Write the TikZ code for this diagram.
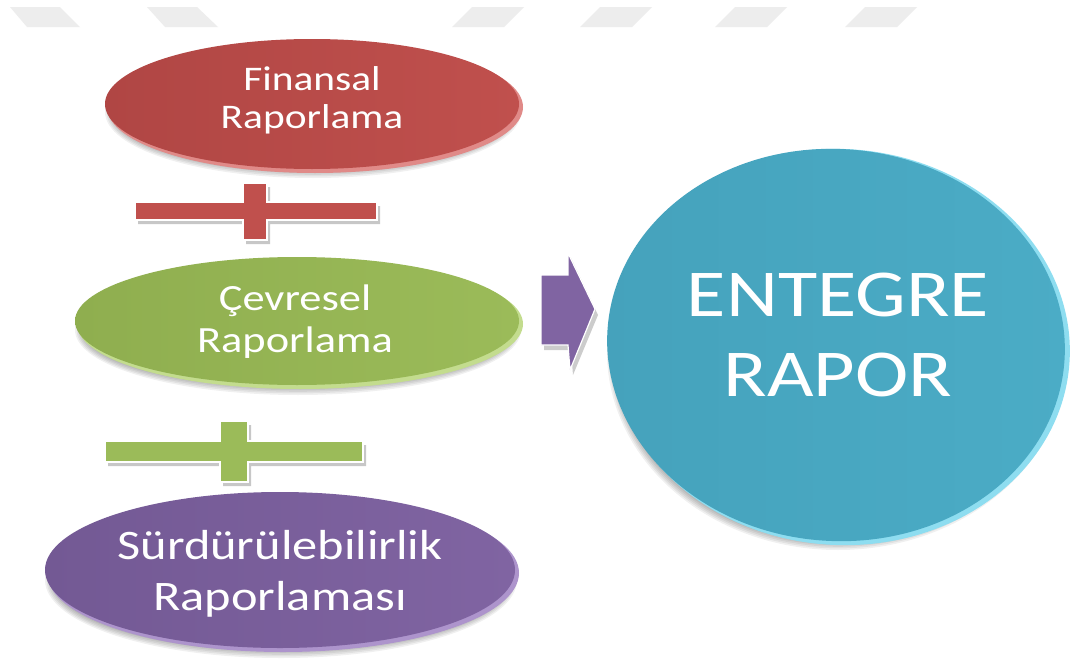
\documentclass[tikz,border=0pt]{standalone}
\usepackage{fontspec}
\setmainfont[FakeStretch=1.2]{Carlito}
\usetikzlibrary{shapes.geometric}
\definecolor{wm}{HTML}{EDEDED}
\definecolor{cred}{HTML}{C0504D}
\definecolor{credD}{HTML}{B04644}
\definecolor{credL}{HTML}{E08A88}
\definecolor{cgreen}{HTML}{9BBB59}
\definecolor{cgreenD}{HTML}{8FAE4F}
\definecolor{cgreenL}{HTML}{C3DC8E}
\definecolor{cpurple}{HTML}{8064A2}
\definecolor{cpurpleD}{HTML}{735994}
\definecolor{cpurpleL}{HTML}{AD94CC}
\definecolor{cteal}{HTML}{4BACC6}
\definecolor{ctealD}{HTML}{45A2BC}
\definecolor{ctealL}{HTML}{8EDDF0}
\newcommand\mysoftshadow[4]{%
  \foreach \k in {0,...,5}{%
    \fill[black,opacity=0.06] (#1,#2) ellipse [x radius={#3-\k*1.6}, y radius={#4-\k*1.6}];}}
\begin{document}
\begin{tikzpicture}[x=1pt,y=-1pt,
  oval/.style={ellipse, inner sep=0pt},
  label/.style={text=white, align=center, inner sep=0pt},
  wmshape/.style={fill=wm},
  plusshape/.style={draw=white, line width=1.2pt},
  plusshadow/.style={fill=black, opacity=0.22}]
\useasboundingbox (0,0) rectangle (1072,672);
\fill[white] (0,0) rectangle (1072,672);
% watermark band
\fill[wmshape] (10,7) -- (60,7) -- (80,27) -- (27,27) -- cycle;
\fill[wmshape] (147,7) -- (197,7) -- (218,27) -- (165,27) -- cycle;
\fill[wmshape] (472,7) -- (524,7) -- (504,27) -- (452,27) -- cycle;
\fill[wmshape] (600,7) -- (652,7) -- (632,27) -- (580,27) -- cycle;
\fill[wmshape] (735,7) -- (787,7) -- (767,27) -- (715,27) -- cycle;
\fill[wmshape] (865,7) -- (917,7) -- (897,27) -- (845,27) -- cycle;

% red ellipse
\mysoftshadow{313}{112}{208}{66}
\fill[credL] (315,107) ellipse [x radius=208, y radius=66];
\node[oval, minimum width=414, minimum height=130, left color=credD, right color=cred]
  (fin) at (312,104) {};
\node[label, font=\fontsize{34.5}{38}\selectfont] (fint) at (312,100) {Finansal\\Raporlama};

% red plus
\fill[plusshadow] (138,206) -- (246,206) -- (246,187) -- (270,187) -- (270,206) -- (380,206)
  -- (380,224) -- (270,224) -- (270,244) -- (246,244) -- (246,224) -- (138,224) -- cycle;
\filldraw[plusshape, fill=cred] (135,202) -- (243,202) -- (243,183) -- (267,183) -- (267,202) -- (377,202)
  -- (377,220) -- (267,220) -- (267,240) -- (243,240) -- (243,220) -- (135,220) -- cycle;

% green ellipse
\mysoftshadow{298}{330}{223}{65}
\fill[cgreenL] (300,324) ellipse [x radius=223, y radius=65];
\node[oval, minimum width=444, minimum height=128, left color=cgreenD, right color=cgreen]
  (cev) at (297,321) {};
\node[label, font=\fontsize{37}{42}\selectfont] (cevt) at (295,322) {Çevresel\\Raporlama};

% green plus
\fill[plusshadow] (108,445) -- (223,445) -- (223,425) -- (251,425) -- (251,445) -- (366,445)
  -- (366,466) -- (251,466) -- (251,486) -- (223,486) -- (223,466) -- (108,466) -- cycle;
\filldraw[plusshape, fill=cgreen] (105,441) -- (220,441) -- (220,421) -- (248,421) -- (248,441) -- (363,441)
  -- (363,462) -- (248,462) -- (248,482) -- (220,482) -- (220,462) -- (105,462) -- cycle;

% purple ellipse
\mysoftshadow{281}{580}{236}{78}
\fill[cpurpleL] (283,573) ellipse [x radius=236, y radius=79];
\node[oval, minimum width=470, minimum height=156, left color=cpurpleD, right color=cpurple]
  (sur) at (280,570) {};
\node[label, font=\fontsize{42}{51}\selectfont] (surt) at (280,574) {Sürdürülebilirlik\\Raporlaması};

% arrow
\fill[black, opacity=0.2] (544,280) -- (571,280) -- (571,258) -- (598,315) -- (573,375) -- (571,350) -- (544,350) -- cycle;
\filldraw[fill=cpurple, draw=white, line width=1.2pt] (541,275) -- (568,275) -- (568,253) -- (595,309)
  -- (570,370) -- (568,345) -- (541,345) -- cycle;

% big circle
\mysoftshadow{838}{352}{231}{198}
\fill[ctealL, rotate around={-4:(840,347)}] (840,347) ellipse [x radius=230, y radius=198];
\node[ellipse, inner sep=0pt, minimum width=458, minimum height=392, rotate=-4,
  left color=ctealD, right color=cteal] (ent) at (836,345) {};
\node[label, font=\fontsize{67}{80}\selectfont] (entt) at (838,335) {ENTEGRE\\RAPOR};
\end{tikzpicture}
\end{document}
